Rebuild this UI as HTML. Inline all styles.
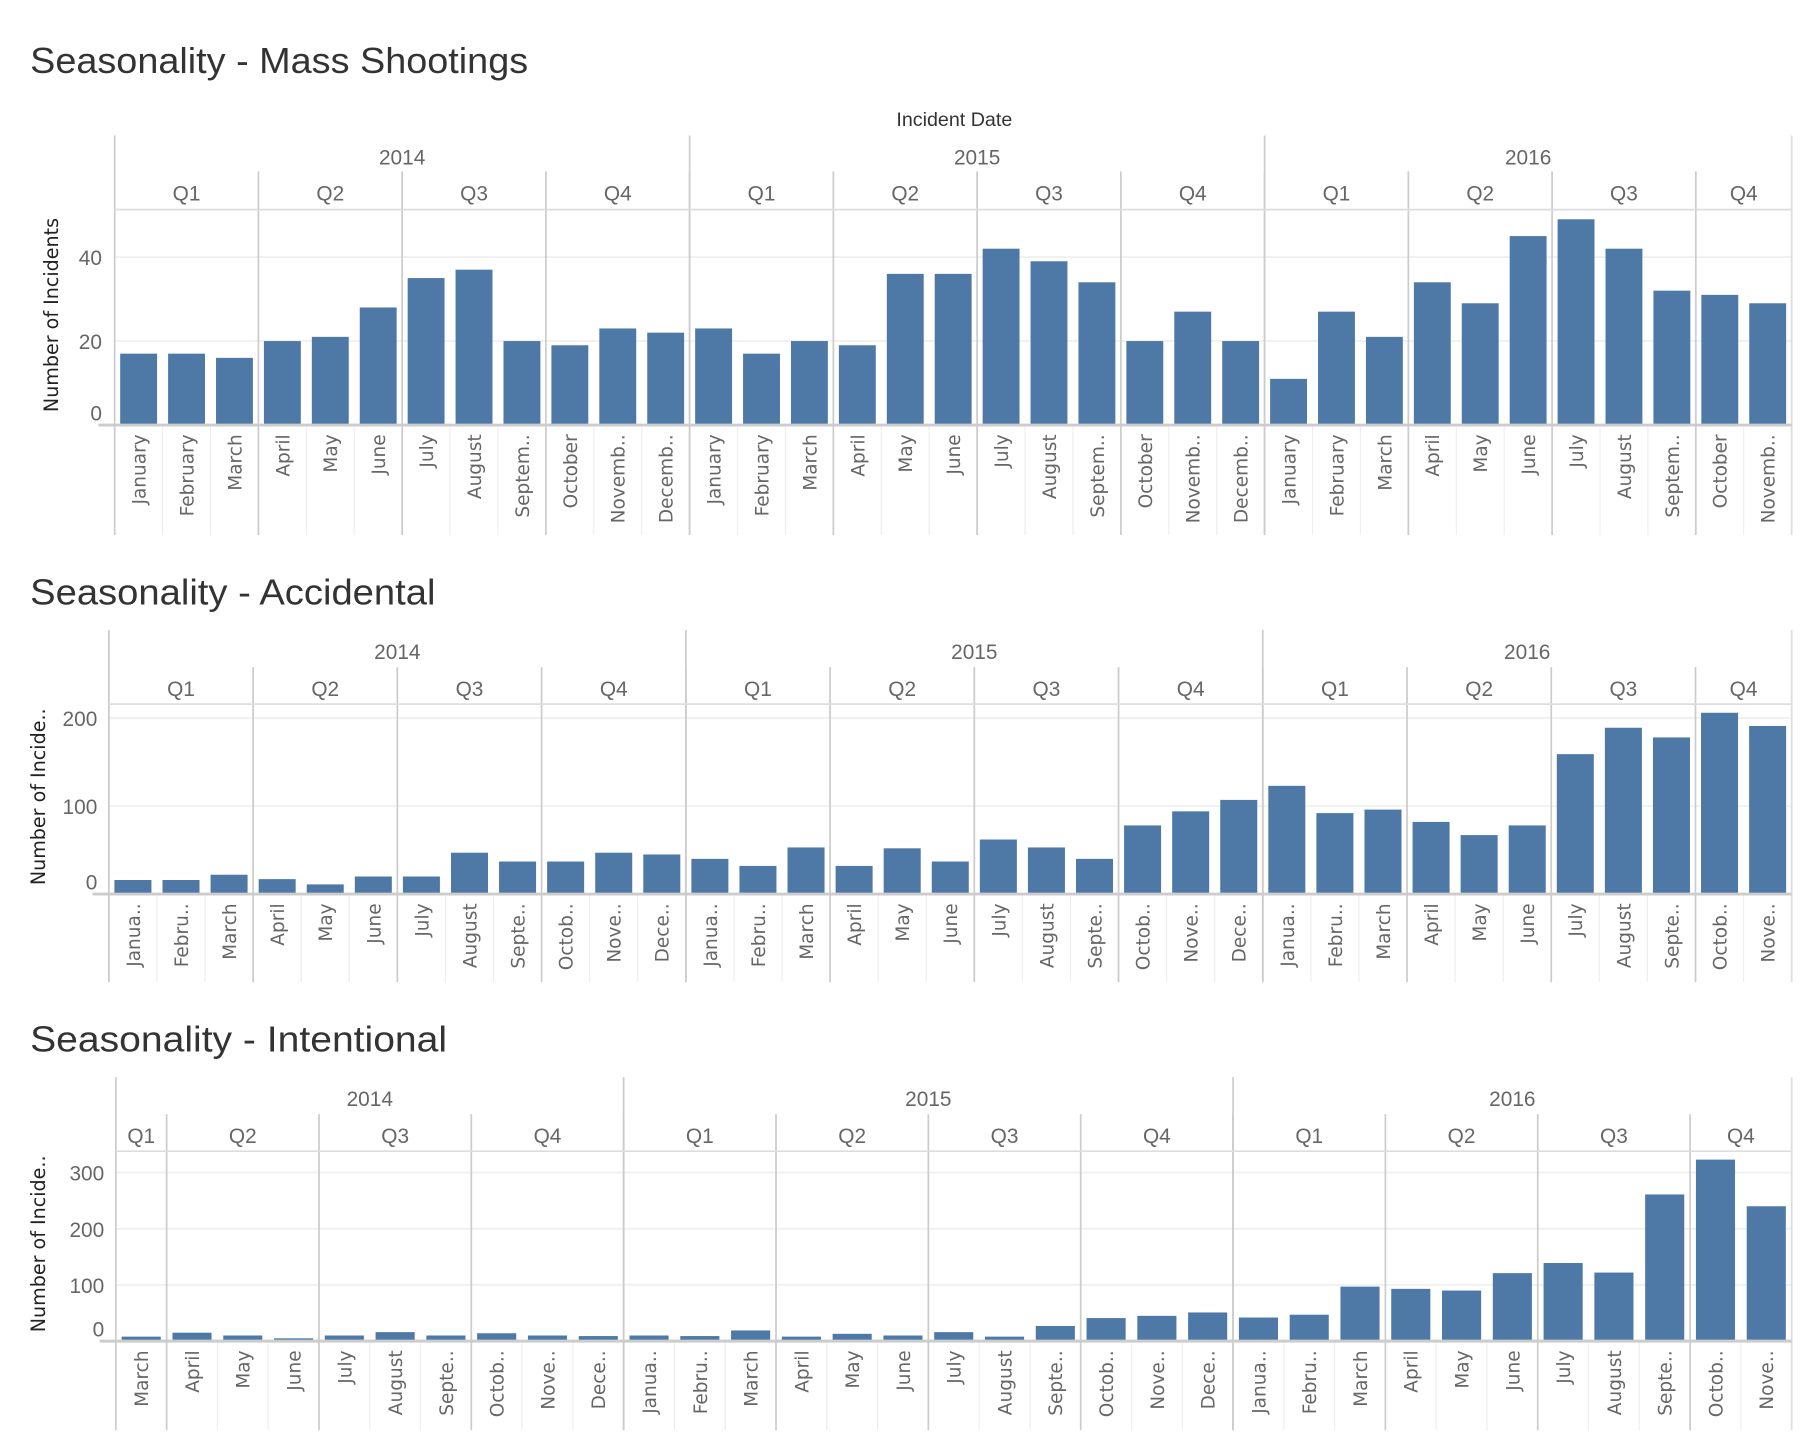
<!DOCTYPE html>
<html><head><meta charset="utf-8">
<style>
html,body{margin:0;padding:0;background:#fff;}
svg{display:block;}
text{font-family:"Liberation Sans",sans-serif;}
</style></head>
<body>
<svg id="root" width="1816" height="1453" viewBox="0 0 1568 1254.6" xmlns="http://www.w3.org/2000/svg">
<text x="26" y="63" font-size="31" fill="#333" textLength="430" lengthAdjust="spacingAndGlyphs">Seasonality - Mass Shootings</text>
<text x="824" y="109" font-size="17" fill="#333" text-anchor="middle">Incident Date</text>
<text x="26" y="522" font-size="31" fill="#333" textLength="350" lengthAdjust="spacingAndGlyphs">Seasonality - Accidental</text>
<text x="26" y="908" font-size="31" fill="#333" textLength="360" lengthAdjust="spacingAndGlyphs">Seasonality - Intentional</text>
<g id="c1"></g>
<g id="c2"></g>
<g id="c3"></g>
</svg>
<script>
const monthsLong = ["January","February","March","April","May","June","July","August","Septem..","October","Novemb..","Decemb.."];
const monthsShort = ["Janua..","Febru..","March","April","May","June","July","August","Septe..","Octob..","Nove..","Dece.."];

const massYears = [2014,2014,2014,2014,2014,2014,2014,2014,2014,2014,2014,2014,2015,2015,2015,2015,2015,2015,2015,2015,2015,2015,2015,2015,2016,2016,2016,2016,2016,2016,2016,2016,2016,2016,2016];
const massMonths = [1,2,3,4,5,6,7,8,9,10,11,12,1,2,3,4,5,6,7,8,9,10,11,12,1,2,3,4,5,6,7,8,9,10,11];
const massValues = [17,17,16,20,21,28,35,37,20,19,23,22,23,17,20,19,36,36,42,39,34,20,27,20,11,27,21,34,29,45,49,42,32,31,29];
const massTicks = [0,20,40];

const accYears = [2014,2014,2014,2014,2014,2014,2014,2014,2014,2014,2014,2014,2015,2015,2015,2015,2015,2015,2015,2015,2015,2015,2015,2015,2016,2016,2016,2016,2016,2016,2016,2016,2016,2016,2016];
const accMonths = [1,2,3,4,5,6,7,8,9,10,11,12,1,2,3,4,5,6,7,8,9,10,11,12,1,2,3,4,5,6,7,8,9,10,11];
const accValues = [16,16,22,17,11,20,20,47,37,37,47,45,40,32,53,32,52,37,62,53,40,78,94,107,123,92,96,82,67,78,159,189,178,206,191];
const accTicks = [0,100,200];

const intYears = [2014,2014,2014,2014,2014,2014,2014,2014,2014,2014,2015,2015,2015,2015,2015,2015,2015,2015,2015,2015,2015,2015,2016,2016,2016,2016,2016,2016,2016,2016,2016,2016,2016];
const intMonths = [3,4,5,6,7,8,9,10,11,12,1,2,3,4,5,6,7,8,9,10,11,12,1,2,3,4,5,6,7,8,9,10,11];
const intValues = [8,15,10,5,10,16,10,14,10,9,10,9,19,8,13,10,16,8,27,41,45,51,42,47,97,93,90,121,139,122,261,323,240];
const intTicks = [0,100,200,300];

const NS = "http://www.w3.org/2000/svg";
function mk(parent, tag, attrs, txt){
  const e = document.createElementNS(NS, tag);
  for (const k in attrs) e.setAttribute(k, attrs[k]);
  if (txt !== undefined) e.textContent = txt;
  parent.appendChild(e);
  return e;
}
function line(g, x1,y1,x2,y2,col,w){
  const l = mk(g,'line',{x1:x1,y1:y1,x2:x2,y2:y2,stroke:col,'stroke-width':w});
  
  
  return l;
}

function drawChart(gid, years, months, values, ticks, L, labels, yTitle){
  const g = document.getElementById(gid);
  const n = values.length;
  const colW = (L.right - L.left) / n;
  const xOf = i => L.left + i * colW;
  const yOf = v => L.zero - (v / L.max) * (L.zero - L.plotTop);
  ticks.forEach(t => {
    if (t === 0) return;
    const gl = line(g, L.left, yOf(t), L.right, yOf(t), '#efefef', 1.5);
    
  });
  for (let i = 1; i < n; i++) {
    line(g, xOf(i), L.zero, xOf(i), L.bottom, '#eeeeee', 1);
  }
  values.forEach((v, i) => {
    const bw = colW * 0.77;
    const r = mk(g,'rect',{x:xOf(i)+(colW-bw)/2, y:yOf(v), width:bw, height:L.zero-yOf(v), fill:'#4e79a7'});
    
    
  });
  values.forEach((v, i) => {
    const cx = xOf(i) + colW/2 + 6;
    const ty = L.zero + 8;
    const t = mk(g,'text',{x:cx, y:ty, style:'font-family:"DejaVu Sans",sans-serif;font-size:16px', fill:'#666', 'text-anchor':'end', transform:'rotate(-90 '+cx+' '+ty+')'}, labels[months[i]-1]);
    
    
  });
  const qOf = m => Math.floor((m-1)/3) + 1;
  let i = 0;
  while (i < n) {
    let j = i;
    while (j < n && years[j] === years[i] && qOf(months[j]) === qOf(months[i])) j++;
    const cx = (xOf(i) + xOf(j)) / 2;
    const t = mk(g,'text',{x:cx, y:L.qTop+25, 'font-size':18, fill:'#666', 'text-anchor':'middle'}, 'Q' + qOf(months[i]));
    
    
    if (i > 0) line(g, xOf(i), L.qTop, xOf(i), L.bottom, '#cccccc', 1.5);
    i = j;
  }
  i = 0;
  while (i < n) {
    let j = i;
    while (j < n && years[j] === years[i]) j++;
    const cx = (xOf(i) + xOf(j)) / 2;
    const t = mk(g,'text',{x:cx, y:L.top+25, 'font-size':18, fill:'#666', 'text-anchor':'middle'}, String(years[i]));
    
    
    if (i > 0) line(g, xOf(i), L.top, xOf(i), L.bottom, '#cccccc', 1.5);
    i = j;
  }
  line(g, L.left, L.top, L.left, L.bottom, '#cccccc', 1.5);
  line(g, L.right, L.top, L.right, L.bottom, '#dddddd', 1.5);
  line(g, L.left, L.plotTop, L.right, L.plotTop, '#dddddd', 1.5);
  const zl = line(g, L.left - 14, L.zero, L.right, L.zero, '#cccccc', 2.5);
  
  ticks.forEach(t => {
    let y = yOf(t) + 7;
    if (t === 0) y = L.zero - 4;
    const tx = mk(g,'text',{x:L.tickX, y:y, 'font-size':18, fill:'#666', 'text-anchor':'end'}, String(t));
    
    
  });
  const cy = (L.plotTop + L.zero) / 2 - 2;
  const yt = mk(g,'text',{x:L.titleX, y:cy, style:'font-family:"DejaVu Sans",sans-serif;font-size:16.5px', fill:'#222', 'text-anchor':'middle', transform:'rotate(-90 '+L.titleX+' '+cy+')'}, yTitle);
  
  
}

drawChart('c1', massYears, massMonths, massValues, massTicks,
  {left:99,right:1547,top:117,qTop:148,plotTop:181,zero:367,bottom:462,max:51.3,tickX:88,titleX:50},
  monthsLong, 'Number of Incidents');
drawChart('c2', accYears, accMonths, accValues, accTicks,
  {left:94,right:1547,top:544,qTop:576,plotTop:608,zero:772,bottom:848,max:215.8,tickX:84,titleX:39},
  monthsShort, 'Number of Incide..');
drawChart('c3', intYears, intMonths, intValues, intTicks,
  {left:100,right:1547,top:930,qTop:962,plotTop:994,zero:1158,bottom:1235,max:338,tickX:90,titleX:39},
  monthsShort, 'Number of Incide..');
</script>
</body></html>
